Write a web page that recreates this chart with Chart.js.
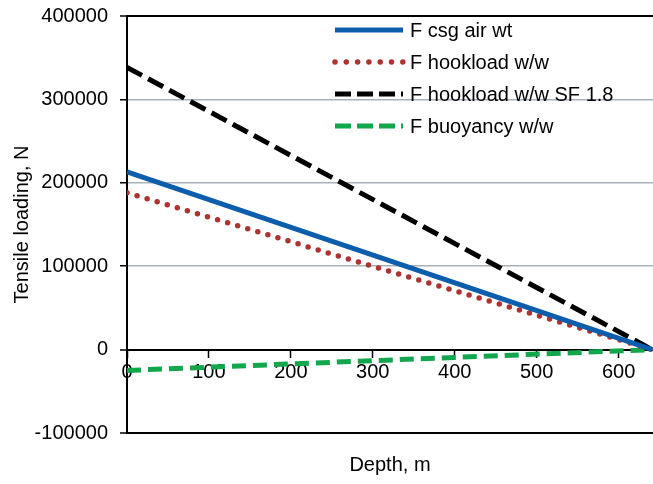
<!DOCTYPE html>
<html>
<head>
<meta charset="utf-8">
<title>Tensile loading vs depth</title>
<script src="https://cdn.jsdelivr.net/npm/chart.js@4/dist/chart.umd.min.js"></script>
<style>
    html, body { margin: 0; padding: 0; background: #ffffff; }
    #chart { display: block; }
</style>
</head>
<body>
<canvas id="chart" width="653" height="484"></canvas>
<script>
// Casing string loads along the well, from surface (0 m) to shoe

const depth = [0, 641];
const csgAirWt = [213000, 0];
const hookloadWW = [188000, 0];
const hookloadSF = [338400, 0];
const buoyancyWW = [-25000, 0];

const seriesNames = ['F csg air wt', 'F hookload w/w', 'F hookload w/w SF 1.8', 'F buoyancy w/w'];
const xTicks = [0, 100, 200, 300, 400, 500, 600];
const yTicks = [-100000, 0, 100000, 200000, 300000, 400000];

const FONT = { family: '"Liberation Sans", Arial, sans-serif', size: 20 };

function toPoints(values) {
    return depth.map((d, i) => ({ x: d, y: values[i] }));
}

// Legend drawn inside the plot, top right, with line samples
const insideLegend = {
    id: 'insideLegend',
    afterDatasetsDraw(chart) {
        const ctx = chart.ctx;
        const x0 = 335, x1 = 403, textX = 410;
        let y = 30;
        ctx.save();
        chart.data.datasets.forEach(ds => {
            ctx.beginPath();
            ctx.strokeStyle = ds.borderColor;
            ctx.lineWidth = ds.borderWidth;
            ctx.lineCap = ds.borderCapStyle || 'butt';
            ctx.setLineDash(ds.legendDash || ds.borderDash || []);
            ctx.moveTo(x0, y);
            ctx.lineTo(x1, y);
            ctx.stroke();
            ctx.setLineDash([]);
            ctx.fillStyle = '#000000';
            ctx.font = `${FONT.size}px ${FONT.family}`;
            ctx.textBaseline = 'middle';
            ctx.textAlign = 'left';
            ctx.fillText(ds.label, textX, y + 1);
            y += 32;
        });

        // x axis title sits below the plot frame
        const area = chart.chartArea;
        ctx.textAlign = 'center';
        ctx.textBaseline = 'middle';
        ctx.fillText('Depth, m', (area.left + area.right) / 2, 465);
        ctx.restore();
    }
};

const ctx = document.getElementById('chart').getContext('2d');

new Chart(ctx, {
    type: 'line',
    data: {
        datasets: [
            {
                label: seriesNames[0],
                data: toPoints(csgAirWt),
                borderColor: '#0c5dab',
                borderWidth: 5,
                borderCapStyle: 'butt'
            },
            {
                label: seriesNames[1],
                data: toPoints(hookloadWW),
                borderColor: '#ad3232',
                borderWidth: 5.5,
                borderCapStyle: 'round',
                borderDash: [0, 10.5],
                legendDash: [0, 11.3]
            },
            {
                label: seriesNames[2],
                data: toPoints(hookloadSF),
                borderColor: '#000000',
                borderWidth: 5,
                borderCapStyle: 'butt',
                borderDash: [17, 7],
                legendDash: [16, 6]
            },
            {
                label: seriesNames[3],
                data: toPoints(buoyancyWW),
                borderColor: '#12a64d',
                borderWidth: 5,
                borderCapStyle: 'butt',
                borderDash: [14, 7],
                legendDash: [16, 6]
            }
        ]
    },
    options: {
        responsive: false,
        devicePixelRatio: 1,
        animation: false,
        layout: { padding: { left: 0, top: 16, right: 0, bottom: 51 } },
        elements: {
            point: { radius: 0, hoverRadius: 0 },
            line: { tension: 0 }
        },
        plugins: {
            legend: { display: false },
            tooltip: { enabled: false }
        },
        scales: {
            x: {
                type: 'linear',
                position: { y: 0 },
                min: 0,
                max: 642,
                afterBuildTicks: scale => { scale.ticks = xTicks.map(v => ({ value: v })); },
                ticks: {
                    color: '#000000',
                    font: FONT,
                    padding: 4,
                    maxRotation: 0,
                    callback: v => String(v)
                },
                grid: {
                    drawOnChartArea: false,
                    drawTicks: true,
                    tickLength: 7,
                    tickColor: '#000000',
                    tickWidth: 1.5
                },
                border: { color: '#000000', width: 2 }
            },
            y: {
                type: 'linear',
                min: -100000,
                max: 400000,
                afterBuildTicks: scale => { scale.ticks = yTicks.map(v => ({ value: v })); },
                afterFit: scale => {
                    scale.width = 127;
                    scale.paddingTop = 4;
                    scale.paddingBottom = 4;
                },
                ticks: {
                    color: '#000000',
                    font: FONT,
                    padding: 12,
                    callback: v => String(v)
                },
                grid: {
                    color: c => {
                        const v = c.tick ? c.tick.value : null;
                        return (v === 400000 || v === -100000 || v === 0) ? '#000000' : '#a9b0b7';
                    },
                    lineWidth: c => {
                        const v = c.tick ? c.tick.value : null;
                        return (v === 400000 || v === -100000 || v === 0) ? 2 : 1.5;
                    },
                    drawTicks: true,
                    tickLength: 7,
                    tickColor: '#000000',
                    tickWidth: 1.5
                },
                border: { color: '#000000', width: 2 },
                title: {
                    display: true,
                    text: 'Tensile loading, N',
                    color: '#000000',
                    font: FONT,
                    padding: { top: 10, bottom: 4 }
                }
            }
        }
    },
    plugins: [insideLegend]
});
</script>
</body>
</html>
